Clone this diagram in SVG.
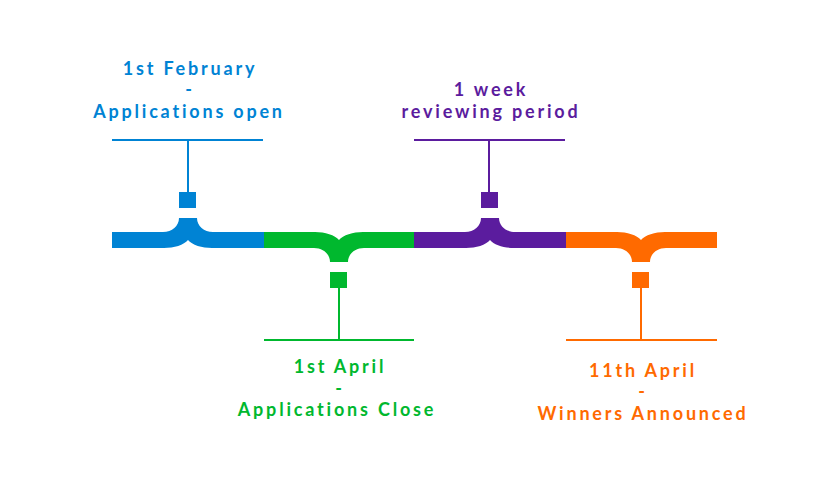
<svg xmlns="http://www.w3.org/2000/svg" width="829" height="493" viewBox="0 0 829 493">
<style>
text{font-family:"Lato","Liberation Sans",sans-serif;font-weight:bold;font-size:18px;letter-spacing:2.8px;text-anchor:middle}
.b{fill:#0083d4}.g{fill:#00b82e}.p{fill:#5b1c9e}.o{fill:#ff6a00}
.bs{stroke:#0083d4}.gs{stroke:#00b82e}.ps{stroke:#5b1c9e}.os{stroke:#ff6a00}
line{stroke-width:2;fill:none}
</style>
<rect width="829" height="493" fill="#fff"/>
<g id="connectors">
<line class="bs" x1="112" y1="140" x2="263" y2="140"/>
<line class="bs" x1="188" y1="140" x2="188" y2="194"/>
<line class="ps" x1="414" y1="140" x2="565" y2="140"/>
<line class="ps" x1="489" y1="140" x2="489" y2="194"/>
<line class="gs" x1="264" y1="340" x2="414" y2="340"/>
<line class="gs" x1="339" y1="286" x2="339" y2="340"/>
<line class="os" x1="566" y1="340" x2="717" y2="340"/>
<line class="os" x1="641" y1="286" x2="641" y2="340"/>
</g>
<g id="node-feb">
<path class="b" d="M112,232 H163 C172,232 179,226 179,218 H197 C197,226 204,232 213,232 H264 V248 H212 C202,248 192,245 188,240 C184,245 174,248 164,248 H112 Z"/>
<rect class="b" x="179" y="192" width="17" height="16"/>
<text class="b" x="190" y="75">1st February</text>
<text class="b" x="190" y="96">-</text>
<text class="b" x="189" y="118">Applications open</text>
</g>
<g id="node-april1">
<path class="g" d="M264,248 H314 C323,248 330,254 330,262 H348 C348,254 355,248 364,248 H414 V232 H363 C353,232 343,235 339,240 C335,235 325,232 315,232 H264 Z"/>
<rect class="g" x="330" y="272" width="17" height="16"/>
<text class="g" x="340" y="373">1st April</text>
<text class="g" x="340" y="395">-</text>
<text class="g" x="337" y="416">Applications Close</text>
</g>
<g id="node-review">
<path class="p" d="M414,232 H465 C474,232 481,226 481,218 H499 C499,226 506,232 515,232 H566 V248 H514 C504,248 494,245 490,240 C486,245 476,248 466,248 H414 Z"/>
<rect class="p" x="481" y="192" width="17" height="16"/>
<text class="p" x="491" y="96">1 week</text>
<text class="p" x="491" y="118">reviewing period</text>
</g>
<g id="node-april11">
<path class="o" d="M566,248 H616 C625,248 632,254 632,262 H650 C650,254 657,248 666,248 H717 V232 H665 C655,232 645,235 641,240 C637,235 627,232 617,232 H566 Z"/>
<rect class="o" x="632" y="272" width="17" height="16"/>
<text class="o" x="643" y="377">11th April</text>
<text class="o" x="643" y="398">-</text>
<text class="o" x="643" y="420">Winners Announced</text>
</g>
</svg>
